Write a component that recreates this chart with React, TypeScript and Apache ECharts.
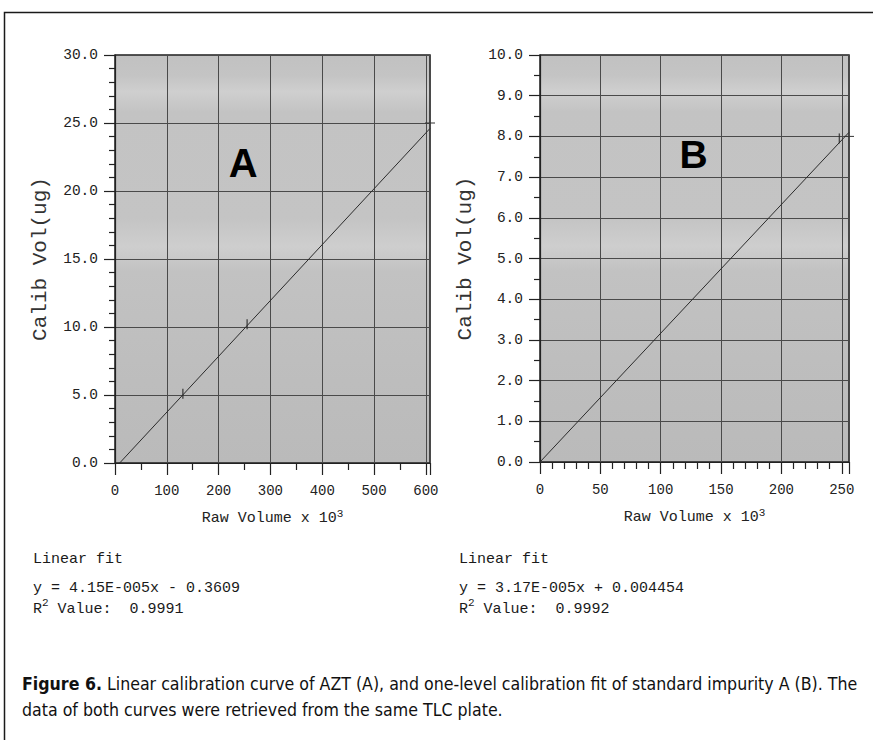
import React, { useEffect, useRef } from "react";
import * as echarts from "echarts";

// ---- data ----
const fitLineA: [number, number][] = [[9, 0], [608, 24.6]];
const calibPointsA: [number, number][] = [[131, 5.1], [255, 10.2]];
const fitLineB: [number, number][] = [[0, 0], [256, 8.1]];
const calibPointsB: [number, number][] = [[248, 7.95]];

const axisA = { xMin: 0, xMax: 608, xStep: 100, yMin: 0, yMax: 30, yStep: 5 };
const axisB = { xMin: 0, xMax: 256, xStep: 50, yMin: 0, yMax: 10, yStep: 1 };

const panelLabels = ["A", "B"];
const fitTextA = ["Linear fit", "y = 4.15E-005x - 0.3609", "0.9991"];
const fitTextB = ["Linear fit", "y = 3.17E-005x + 0.004454", "0.9992"];
const xAxisName = "Raw Volume x 10";
const yAxisName = "Calib Vol(ug)";
const captionBold = "Figure 6.";
const captionLine1 =
  " Linear calibration curve of AZT (A), and one-level calibration fit of standard impurity A (B). The";
const captionLine2 = "data of both curves were retrieved from the same TLC plate.";

const MONO = "'Liberation Mono', 'DejaVu Sans Mono', monospace";
const CAPTION_FONT = "'Liberation Sans Narrow', 'DejaVu Sans Condensed', 'Liberation Sans', sans-serif";

function bgGradient() {
  return new echarts.graphic.LinearGradient(0, 0, 0, 1, [
    { offset: 0, color: "#c1c1c1" },
    { offset: 0.05, color: "#c4c4c4" },
    { offset: 0.09, color: "#cfcfcf" },
    { offset: 0.14, color: "#c3c3c3" },
    { offset: 0.4, color: "#c4c4c4" },
    { offset: 0.47, color: "#cecece" },
    { offset: 0.53, color: "#c2c2c2" },
    { offset: 0.8, color: "#bdbdbd" },
    { offset: 1, color: "#bababa" },
  ]);
}

function xAxisCfg(ax: typeof axisA, gridIndex: number, minorSplit: number) {
  return {
    type: "value",
    gridIndex,
    min: ax.xMin,
    max: ax.xMax,
    interval: ax.xStep,
    position: "bottom",
    name: `{n|${xAxisName}}{s|3}`,
    nameLocation: "middle",
    nameGap: 45,
    nameTextStyle: {
      rich: {
        n: { fontFamily: MONO, fontSize: 15, color: "#222", lineHeight: 20 },
        s: { fontFamily: MONO, fontSize: 11, color: "#222", lineHeight: 11, verticalAlign: "top" },
      },
    },
    axisLine: { show: true, lineStyle: { color: "#222", width: 1.2 } },
    axisTick: { show: true, length: 12, lineStyle: { color: "#222", width: 1.2 } },
    minorTick: { show: true, splitNumber: minorSplit, length: 7, lineStyle: { color: "#222", width: 1.2 } },
    axisLabel: {
      show: true,
      margin: 21,
      fontFamily: MONO,
      fontSize: 14,
      color: "#222",
      showMaxLabel: false,
      formatter: (v: number) => String(v),
    },
    splitLine: { show: true, lineStyle: { color: "#4a4a4a", width: 1 } },
    minorSplitLine: { show: false },
  };
}

function yAxisCfg(ax: typeof axisA, gridIndex: number, minorSplit: number) {
  return {
    type: "value",
    gridIndex,
    min: ax.yMin,
    max: ax.yMax,
    interval: ax.yStep,
    name: yAxisName,
    nameLocation: "middle",
    nameGap: 64,
    nameTextStyle: { fontFamily: MONO, fontSize: 21, color: "#333" },
    axisLine: { show: true, lineStyle: { color: "#222", width: 1.2 } },
    axisTick: { show: true, length: 11, lineStyle: { color: "#222", width: 1.2 } },
    minorTick: { show: true, splitNumber: minorSplit, length: 6, lineStyle: { color: "#222", width: 1.2 } },
    axisLabel: {
      show: true,
      margin: 17,
      fontFamily: MONO,
      fontSize: 14.5,
      color: "#222",
      formatter: (v: number) => v.toFixed(1),
    },
    splitLine: { show: true, lineStyle: { color: "#4a4a4a", width: 1 } },
  };
}

function fitTexts(lines: string[], x: number) {
  const base = { fontFamily: MONO, fontSize: 15, fill: "#1a1a1a" };
  return [
    { type: "text", left: x, top: 552, style: { ...base, text: lines[0] } },
    { type: "text", left: x, top: 581, style: { ...base, text: lines[1] } },
    {
      type: "text",
      left: x,
      top: 597,
      style: {
        text: `{r|R}{s|2}{r| Value:  ${lines[2]}}`,
        rich: {
          r: { fontFamily: MONO, fontSize: 15, fill: "#1a1a1a", lineHeight: 20, verticalAlign: "bottom" },
          s: { fontFamily: MONO, fontSize: 11, fill: "#1a1a1a", lineHeight: 11, verticalAlign: "top" },
        },
      },
    },
  ];
}

export default function App() {
  const ref = useRef<HTMLDivElement>(null);

  useEffect(() => {
    if (!ref.current) return;
    const chart = echarts.init(ref.current, undefined, { renderer: "svg" });
    const option: any = {
      animation: false,
      backgroundColor: "#ffffff",
      grid: [
        {
          left: 115, top: 55, width: 315, height: 408,
          show: true, backgroundColor: bgGradient(), borderColor: "#1e1e1e", borderWidth: 1.5,
        },
        {
          left: 540, top: 55, width: 309, height: 407,
          show: true, backgroundColor: bgGradient(), borderColor: "#1e1e1e", borderWidth: 1.5,
        },
      ],
      xAxis: [xAxisCfg(axisA, 0, 2), xAxisCfg(axisB, 1, 5)],
      yAxis: [yAxisCfg(axisA, 0, 5), yAxisCfg(axisB, 1, 2)],
      series: [
        {
          type: "line", xAxisIndex: 0, yAxisIndex: 0, data: fitLineA, showSymbol: false,
          lineStyle: { color: "#2b2b2b", width: 1 }, silent: true,
        },
        {
          type: "scatter", xAxisIndex: 0, yAxisIndex: 0, data: calibPointsA,
          symbol: "rect", symbolSize: [1.4, 10], itemStyle: { color: "#2b2b2b" },
        },
        {
          type: "line", xAxisIndex: 1, yAxisIndex: 1, data: fitLineB, showSymbol: false,
          lineStyle: { color: "#2b2b2b", width: 1 }, silent: true,
        },
        {
          type: "scatter", xAxisIndex: 1, yAxisIndex: 1, data: calibPointsB,
          symbol: "rect", symbolSize: [1.4, 10], itemStyle: { color: "#2b2b2b" },
        },
      ],
    };
    chart.setOption(option);

    // extra pieces: horizontal ref lines crossing the right frame, panel letters
    const pA = chart.convertToPixel({ gridIndex: 0 }, [axisA.xMax, 25]) as number[];
    const pB = chart.convertToPixel({ gridIndex: 1 }, [axisB.xMax, 8]) as number[];
    const lA = chart.convertToPixel({ gridIndex: 0 }, [255, 22.5]) as number[];
    const lB = chart.convertToPixel({ gridIndex: 1 }, [128, 7.5]) as number[];

    chart.setOption({
      graphic: [
        {
          type: "polyline", shape: { points: [[4.5, 760], [4.5, 12.5], [900, 12.5]] },
          style: { fill: "none", stroke: "#1a1a1a", lineWidth: 1.5 }, z: 100,
        },
        {
          type: "line", shape: { x1: pA[0] - 5, y1: pA[1], x2: pA[0] + 5, y2: pA[1] },
          style: { stroke: "#333", lineWidth: 1 }, z: 100,
        },
        {
          type: "line", shape: { x1: pB[0] - 5, y1: pB[1], x2: pB[0] + 5, y2: pB[1] },
          style: { stroke: "#333", lineWidth: 1 }, z: 100,
        },
        {
          type: "text", x: lA[0] - 4, y: lA[1] + 6, z: 100,
          style: {
            text: panelLabels[0], fontFamily: "'Liberation Sans', Arial, sans-serif", fontWeight: "bold",
            fontSize: 40, fill: "#000", align: "center", verticalAlign: "middle",
          },
        },
        {
          type: "text", x: lB[0] - 1, y: lB[1] - 2, z: 100,
          style: {
            text: panelLabels[1], fontFamily: "'Liberation Sans', Arial, sans-serif", fontWeight: "bold",
            fontSize: 39, fill: "#000", align: "center", verticalAlign: "middle",
          },
        },
        ...fitTexts(fitTextA, 33),
        ...fitTexts(fitTextB, 459),
        {
          type: "text", left: 22, top: 675, z: 100,
          style: {
            text: `{b|${captionBold}}{r|${captionLine1}}`,
            rich: {
              b: { fontFamily: CAPTION_FONT, fontSize: 17.6, fontWeight: "bold", fill: "#111" },
              r: { fontFamily: CAPTION_FONT, fontSize: 17.6, fill: "#111" },
            },
          },
        },
        {
          type: "text", left: 22, top: 701, z: 100,
          style: { text: captionLine2, fontFamily: CAPTION_FONT, fontSize: 17.6, fill: "#111" },
        },
      ],
    });

    return () => chart.dispose();
  }, []);

  return (
    <div
      ref={ref}
      style={{ position: "fixed", left: 0, top: 0, width: 873, height: 740, background: "#fff" }}
    />
  );
}
